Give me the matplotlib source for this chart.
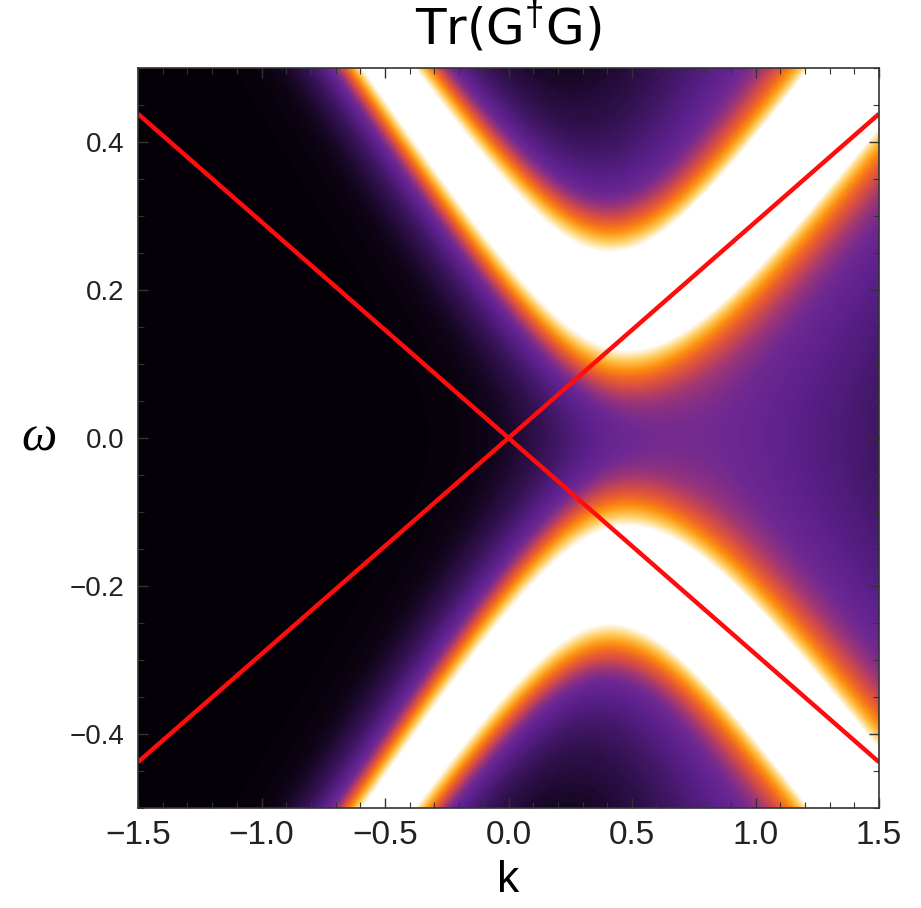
import numpy as np
import matplotlib
matplotlib.use("Agg")
import matplotlib.pyplot as plt
from matplotlib.colors import LinearSegmentedColormap
from matplotlib.ticker import MultipleLocator

plt.rcParams["mathtext.fontset"] = "custom"
plt.rcParams["mathtext.rm"] = "Liberation Sans"
plt.rcParams["mathtext.it"] = "Liberation Sans:italic"

# ---- data / model parameters ----
k_range = [-1.5, 1.5]
omega_range = [-0.5, 0.5]
band_center_k = 0.44          # k position of the gap minimum
band_gap = 0.187              # band vertex energy
band_velocity = [0.50, 0.46]  # asymptotic slope left / right of k0
core_width = [0.1, 0.2]       # peak width at k0, exponential growth rate with k
core_power = 4.0
tail_width = 0.30             # broad glow, stronger on the right-hand side
tail_amp = [0.22, 0.72, 0.166]  # amplitude, k-centre, k-scale of the glow
white_level = 0.9             # value mapped to white
line_slopes = [0.292, -0.292]   # red lines omega = s * k

x_ticks = [-1.5, -1.0, -0.5, 0.0, 0.5, 1.0, 1.5]
y_ticks = [-0.4, -0.2, 0.0, 0.2, 0.4]

# ---- field ----
k = np.linspace(k_range[0], k_range[1], 700)
w = np.linspace(omega_range[0], omega_range[1], 700)
K, W = np.meshgrid(k, w)
V = np.where(K < band_center_k, band_velocity[0], band_velocity[1])
E = np.sqrt(band_gap**2 + (V * (K - band_center_k))**2)
s = core_width[0] * np.exp(core_width[1] * (K - band_center_k))
T = tail_amp[0] / (1 + np.exp(-(K - tail_amp[1]) / tail_amp[2]))
F = np.zeros_like(K)
for sign in (1, -1):
    d = np.abs(W - sign * E)
    F += 1.0 / (1 + (d / s)**core_power) + T / (1 + (d / tail_width)**3)

cmap = LinearSegmentedColormap.from_list("sunset", [
    (0.000, (0.02, 0.00, 0.03)),
    (0.012, (0.05, 0.015, 0.08)),
    (0.035, (0.15, 0.05, 0.24)),
    (0.070, (0.23, 0.08, 0.36)),
    (0.120, (0.31, 0.11, 0.48)),
    (0.180, (0.37, 0.13, 0.56)),
    (0.260, (0.44, 0.16, 0.57)),
    (0.350, (0.61, 0.21, 0.47)),
    (0.460, (0.82, 0.29, 0.29)),
    (0.580, (0.94, 0.40, 0.15)),
    (0.700, (0.99, 0.57, 0.06)),
    (0.850, (1.00, 0.80, 0.36)),
    (1.000, (1.00, 1.00, 1.00)),
])

fig = plt.figure(figsize=(9.21, 9.08), dpi=100)
ax = fig.add_axes([138/921, 1-808/908, (879-138)/921, (808-68)/908])
ax.imshow(F, origin="lower", extent=[k_range[0], k_range[1], omega_range[0], omega_range[1]],
          aspect="auto", cmap=cmap, vmin=0, vmax=white_level, interpolation="bilinear")

kl = np.array(k_range)
for sl in line_slopes:
    ax.plot(kl, sl * kl, color=(1.0, 0.05, 0.05), lw=3.2, solid_capstyle="butt")

ax.set_xlim(*k_range)
ax.set_ylim(*omega_range)
ax.set_xticks(x_ticks)
ax.set_yticks(y_ticks)
ax.set_xticklabels([f"{t:.1f}".replace("-", "\u2212") for t in x_ticks])
ax.set_yticklabels([f"{t:.1f}".replace("-", "\u2212") for t in y_ticks])
ax.xaxis.set_minor_locator(MultipleLocator(0.1))
ax.yaxis.set_minor_locator(MultipleLocator(0.05))
ax.tick_params(which="both", direction="in", top=True, right=True, color="#333333")
ax.tick_params(which="major", length=7, width=1.0)
ax.tick_params(which="minor", length=4, width=0.8)
ax.tick_params(axis="x", labelsize=24, pad=9, labelcolor="#222222")
ax.tick_params(axis="y", labelsize=20, pad=10, labelcolor="#222222")
for lab in ax.get_xticklabels():
    lab.set_family(["Liberation Sans Narrow", "Liberation Sans", "DejaVu Sans"])
for lab in ax.get_yticklabels():
    lab.set_family(["Liberation Sans", "DejaVu Sans"])
for sp in ax.spines.values():
    sp.set_color("#333333")
    sp.set_linewidth(1.2)

ax.set_xlabel("k", fontsize=32, family="Liberation Sans", labelpad=6)
ax.set_ylabel("\u03c9", fontsize=36, family="Liberation Serif", style="italic", rotation=0,
              labelpad=22, va="center")
fig.text(508/921, 1-27/908, r"Tr(G$^{\dagger}$G)", fontsize=36,
         ha="center", va="center")

fig.savefig("out.png", dpi=100)
